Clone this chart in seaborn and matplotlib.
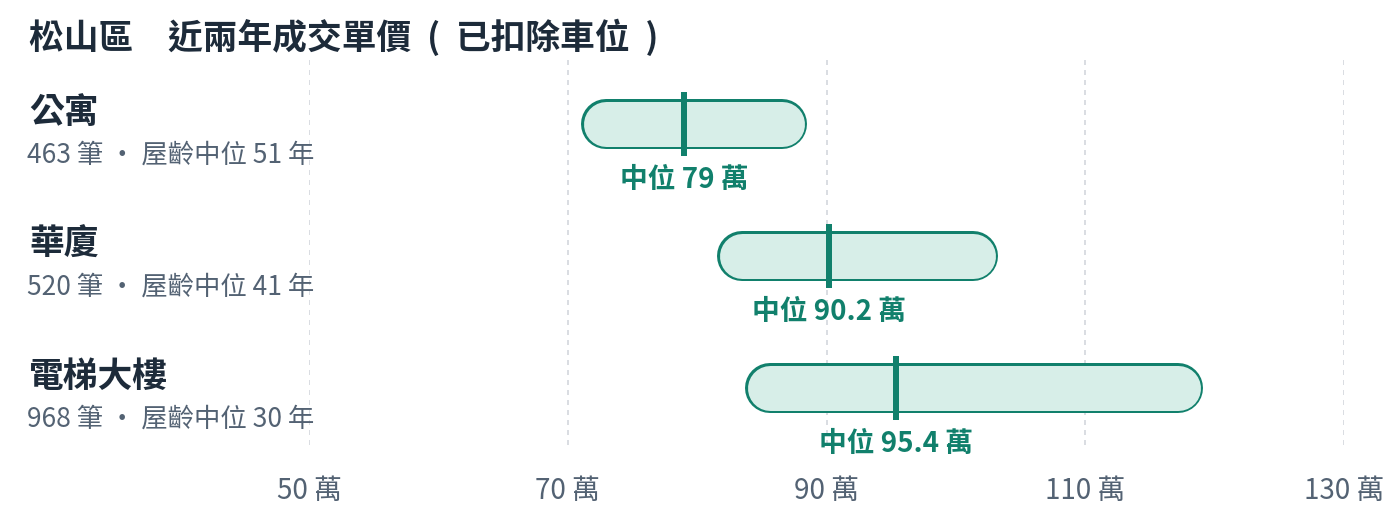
import matplotlib
matplotlib.use("Agg")
import matplotlib.pyplot as plt
import matplotlib.transforms as mtransforms
import seaborn as sns

# data
types = ["公寓", "華廈", "電梯大樓"]
counts = [463, 520, 968]
ages = [51, 41, 30]
q1 = [71.1, 81.6, 83.8]
q3 = [88.4, 103.2, 119.0]
medians = [79, 90.2, 95.4]
ticks = [50, 70, 90, 110, 130]

TEAL = "#11806c"
FILL = "#d7eee8"
DARK = "#1d2b3a"
GRAY = "#536273"
GRID = "#d3d7dd"

sns.set_theme(style="white")
plt.rcParams['font.family'] = ['Noto Sans CJK TC', 'DejaVu Sans']

W, H, DPI = 14, 5.24, 100
fig = plt.figure(figsize=(W, H), dpi=DPI)
# axes spans 50..130 horizontally (px 309..1344), grid from px 60 to 445 vertically
ax = fig.add_axes([309 / 1400, 1 - 445 / 524, (1344 - 309) / 1400, (445 - 60) / 524])
ax.set_xlim(50, 130)
row_px = 132
ax.set_ylim(2 + (445 - 388) / row_px, -64 / row_px)
sns.despine(ax=ax, left=True, bottom=True)
ax.set_yticks([])
ax.set_xticks(ticks)
ax.set_xticklabels([f"{t} 萬" for t in ticks], fontsize=20, color=GRAY, fontweight="light")
ax.tick_params(axis="x", length=0, pad=22)
ax.grid(axis="x", color=GRID, linestyle=(0, (3, 3)), linewidth=1.2)
ax.set_axisbelow(True)

# pills drawn as round-capped thick lines
px_per_unit = 1035 / 80
pill_px = 48
r_units = (pill_px / 2) / px_per_unit
pt = 72 / DPI
for i in range(len(types)):
    xs = [q1[i] + r_units, q3[i] - r_units]
    ax.plot(xs, [i, i], color=TEAL, lw=(pill_px + 2) * pt,
            solid_capstyle="round", zorder=2)
    ax.plot(xs, [i, i], color=FILL, lw=(pill_px - 3) * pt,
            solid_capstyle="round", zorder=3)

# median ticks
sns.scatterplot(x=medians, y=list(range(len(types))), marker="|", s=(64 * pt) ** 2,
                linewidth=6 * pt, color=TEAL, ax=ax, zorder=4, legend=False)
for i, m in enumerate(medians):
    ax.text(m, i + 56 / row_px, f"中位 {m:g} 萬", ha="center", va="center",
            fontsize=20, fontweight="bold", color=TEAL)

# left labels
trans = mtransforms.blended_transform_factory(fig.transFigure, ax.transData)
for i, t in enumerate(types):
    ax.text(29 / 1400, i - 12 / row_px, t, transform=trans, ha="left", va="center",
            fontsize=25, fontweight="bold", color=DARK)
    ax.text(27 / 1400, i + 31 / row_px, f"{counts[i]} 筆 · 屋齡中位 {ages[i]} 年",
            transform=trans, ha="left", va="center", fontsize=19, color=GRAY,
            fontweight="light")

fig.text(29 / 1400, 1 - 37 / 524, "松山區　近兩年成交單價  (  已扣除車位  )",
         ha="left", va="center", fontsize=25, fontweight="bold", color=DARK)

fig.savefig("out.png", dpi=DPI, facecolor="white")
